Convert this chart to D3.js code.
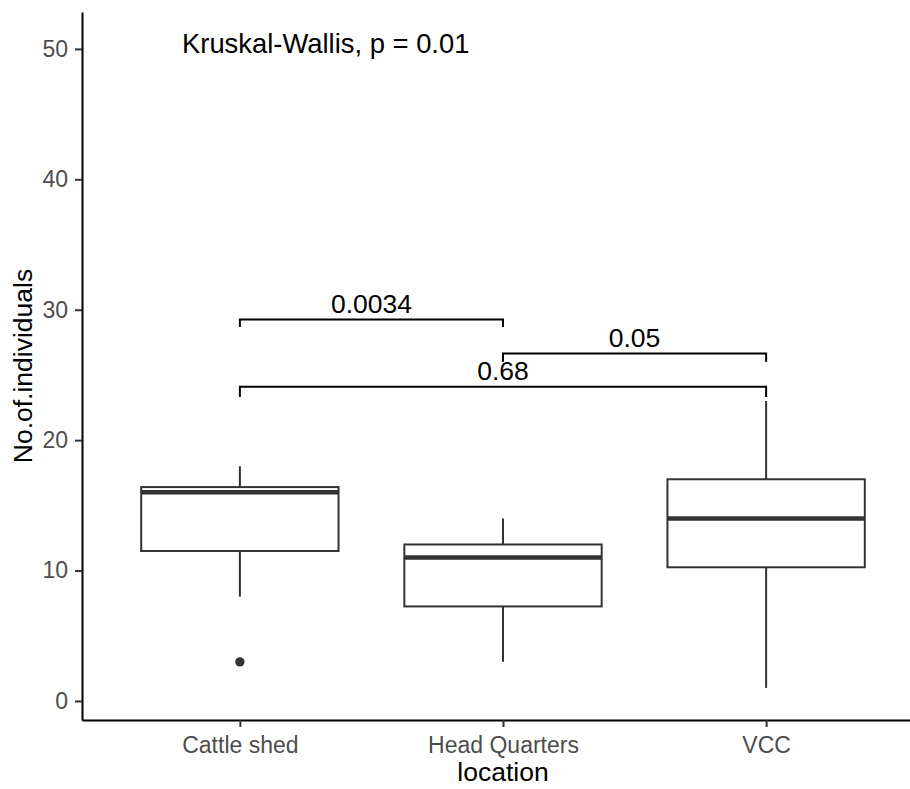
<!DOCTYPE html>
<html>
<head>
<meta charset="utf-8">
<script src="https://cdn.jsdelivr.net/npm/d3@7"></script>
<style>
  body { margin: 0; background: #ffffff; }
  svg text { font-family: "Liberation Sans", Arial, sans-serif; }
</style>
</head>
<body>
<svg id="chart" width="910" height="789"></svg>
<script>
// Box-plot summaries per location
const locations    = ["Cattle shed", "Head Quarters", "VCC"];
const lowerWhisker = [8, 3, 1];
const q1           = [11.5, 7.25, 10.25];
const medians      = [16, 11, 14];
const q3           = [16.4, 12, 17];
const upperWhisker = [18, 14, 23];

// Outlying observations
const outlierLocation = ["Cattle shed"];
const outlierValue    = [3];

// Pairwise comparison brackets (Wilcoxon p-values)
const pairFrom      = ["Cattle shed", "Head Quarters", "Cattle shed"];
const pairTo        = ["Head Quarters", "VCC", "VCC"];
const bracketY      = [29.25, 26.65, 24.1];
const bracketTip    = [0.57, 0.64, 0.8];
const bracketLabels = ["0.0034", "0.05", "0.68"];

// Global test
const globalTestLabel = "Kruskal-Wallis, p = 0.01";
const globalTestX = 0.78;
const globalTestY = 49.7;

const yTicks = [0, 10, 20, 30, 40, 50];

const W = 910, H = 789;
const plotLeft = 82, plotRight = 924, plotTop = 12, plotBottom = 720;

const svg = d3.select("#chart");
svg.append("rect").attr("width", W).attr("height", H).attr("fill", "#ffffff");

// Discrete positions 1..n with 0.6 units of padding on each side
const x = d3.scaleLinear().domain([0.4, locations.length + 0.6]).range([plotLeft, plotRight]);
const pos = name => locations.indexOf(name) + 1;
const y = d3.scaleLinear().domain([-1.46, 52.83]).range([plotBottom, plotTop]);

const boxHalf = 0.375;
const ink = "#333333";

// Boxes
const g = svg.append("g");
locations.forEach((loc, i) => {
  const cx = x(i + 1);
  g.append("line")
    .attr("x1", cx).attr("x2", cx)
    .attr("y1", y(q3[i])).attr("y2", y(upperWhisker[i]))
    .attr("stroke", ink).attr("stroke-width", 2);
  g.append("line")
    .attr("x1", cx).attr("x2", cx)
    .attr("y1", y(q1[i])).attr("y2", y(lowerWhisker[i]))
    .attr("stroke", ink).attr("stroke-width", 2);
  g.append("rect")
    .attr("x", x(i + 1 - boxHalf))
    .attr("y", y(q3[i]))
    .attr("width", x(i + 1 + boxHalf) - x(i + 1 - boxHalf))
    .attr("height", y(q1[i]) - y(q3[i]))
    .attr("fill", "#ffffff").attr("stroke", ink).attr("stroke-width", 2);
  g.append("line")
    .attr("x1", x(i + 1 - boxHalf)).attr("x2", x(i + 1 + boxHalf))
    .attr("y1", y(medians[i])).attr("y2", y(medians[i]))
    .attr("stroke", ink).attr("stroke-width", 4.5);
});

// Outliers
outlierValue.forEach((v, k) => {
  g.append("circle")
    .attr("cx", x(pos(outlierLocation[k])))
    .attr("cy", y(v))
    .attr("r", 4.7)
    .attr("fill", ink);
});

// Axes
const yAxis = svg.append("g")
  .attr("transform", `translate(${plotLeft},0)`)
  .call(d3.axisLeft(y).tickValues(yTicks).tickSize(7).tickSizeOuter(0).tickPadding(7));
const xAxis = svg.append("g")
  .attr("transform", `translate(0,${plotBottom})`)
  .call(d3.axisBottom(x).tickValues(locations.map((d, i) => i + 1))
    .tickFormat((d, i) => locations[i]).tickSize(7).tickSizeOuter(0).tickPadding(10));

[yAxis, xAxis].forEach(a => {
  a.select(".domain").attr("stroke", "#000000").attr("stroke-width", 2);
  a.selectAll(".tick line").attr("stroke", ink).attr("stroke-width", 2);
  a.selectAll(".tick text")
    .attr("fill", "#4d4d4d")
    .style("font-size", "23px");
});

// Axis titles
svg.append("text")
  .attr("x", (plotLeft + plotRight) / 2)
  .attr("y", 781)
  .attr("text-anchor", "middle")
  .attr("fill", "#000000")
  .style("font-size", "26.5px")
  .text("location");

svg.append("text")
  .attr("transform", `translate(32,${(plotTop + plotBottom) / 2}) rotate(-90)`)
  .attr("text-anchor", "middle")
  .attr("fill", "#000000")
  .style("font-size", "26.5px")
  .text("No.of.individuals");

// Comparison brackets
bracketLabels.forEach((lab, k) => {
  const x1 = x(pos(pairFrom[k])), x2 = x(pos(pairTo[k]));
  const yb = y(bracketY[k]), yt = y(bracketY[k] - bracketTip[k]);
  svg.append("path")
    .attr("d", `M${x1},${yt}V${yb}H${x2}V${yt}`)
    .attr("fill", "none")
    .attr("stroke", "#000000")
    .attr("stroke-width", 2);
  svg.append("text")
    .attr("x", (x1 + x2) / 2)
    .attr("y", yb - 6.5)
    .attr("text-anchor", "middle")
    .attr("fill", "#000000")
    .style("font-size", "26.5px")
    .text(lab);
});

// Global test annotation
svg.append("text")
  .attr("x", x(globalTestX))
  .attr("y", y(globalTestY))
  .attr("text-anchor", "start")
  .attr("fill", "#000000")
  .style("font-size", "27.4px")
  .text(globalTestLabel);
</script>
</body>
</html>
